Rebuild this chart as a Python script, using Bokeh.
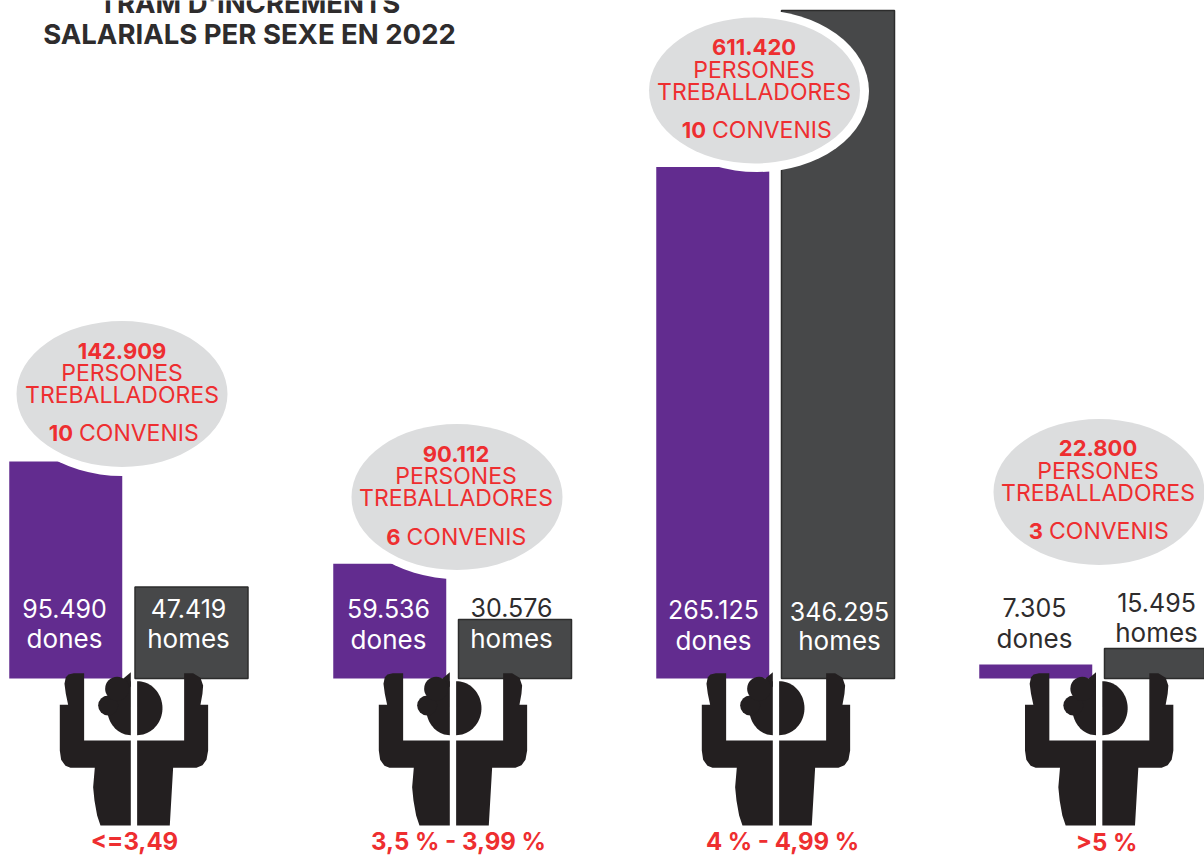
import numpy as np
from bokeh.plotting import figure
from bokeh.models import Range1d
from bokeh.core.properties import value
from bokeh.embed import file_html
from bokeh.resources import INLINE

# ---- data ----
title_lines = ["TRAM D'INCREMENTS", "SALARIALS PER SEXE EN 2022"]
categories = ["<=3,49", "3,5 % - 3,99 %", "4 % - 4,99 %", ">5 %"]
dones = [95490, 59536, 265125, 7305]
homes = [47419, 30576, 346295, 15495]
# the first purple bar is drawn taller in the source than its label says
dones_drawn = [112500, 59536, 265125, 7305]
persones = [142909, 90112, 611420, 22800]
convenis = [10, 6, 10, 3]

# ---- layout (pixels of the page) ----
W, H = 1204, 856
BASE = 678
K = 668 / 346295  # px per person
PURPLE, DARK, EDGE, GREY, RED, INK, ICON = "#622c8f", "#474849", "#2c2c2c", "#dcddde", "#ee2e30", "#2e2c2d", "#231f20"
FONT = value("Inter")

dones_x = [65.25, 389.25, 712.25, 1035.25]
homes_x = [191, 514.5, 837.5, 1160.5]
BAR_W = 113
icon_x = [133.3, 452.3, 775.3, 1098.5]
bubble = [(121.5, 393.5), (456.5, 496.5), (754, 90), (1098.5, 491.5)]
halo = [(121.5, 394.5), (456.5, 497.5), (756.5, 90.5), None]
text_cx = [121.5, 455.5, 753.5, 1097.5]
text_y = [(350.5, 372.5, 394.5, 432.5), (453.5, 475.5, 497.5, 536.5), (46.5, 69.5, 91.5, 129.5), (447.5, 470.5, 492.5, 530.5)]
conv_split = [72.5, 400, 705.5, 1042.5]
cat_x = [134, 458, 782, 1106]
cat_y = [841, 841, 841, 841.5]
dones_lab = [(64, 608, 638, "#ffffff", "#ffffff"), (388, 608, 639, "#ffffff", "#ffffff"),
             (713, 609, 640, "#ffffff", "#ffffff"), (1034, 607, 638, INK, INK)]
homes_lab = [(188, 608, 638, "#ffffff", "#ffffff"), (511, 607, 638, INK, "#ffffff"),
             (839, 611, 640, "#ffffff", "#ffffff"), (1156, 602, 632, INK, INK)]

p = figure(width=W, height=H, output_backend="svg", toolbar_location=None,
           x_axis_location=None, y_axis_location=None,
           x_range=Range1d(0, W),
           y_range=Range1d(-(H - BASE) / K, BASE / K),
           min_border=0, outline_line_color=None, background_fill_color="#ffffff")
p.grid.visible = False
p.extra_y_ranges = {"px": Range1d(H, 0)}

# bars, on the shared people scale
p.vbar(x=dones_x, top=dones_drawn, bottom=0, width=BAR_W, fill_color=PURPLE, line_color=None)
p.vbar(x=homes_x, top=homes, bottom=0, width=BAR_W, fill_color=DARK, line_color=EDGE, line_width=1.5)

# bubbles with white halo
for h in halo:
    if h:
        p.ellipse(x=[h[0]], y=[h[1]], width=224, height=162, height_units="screen", width_units="screen",
                  fill_color="#ffffff", line_color=None, y_range_name="px")
p.ellipse(x=[b[0] for b in bubble], y=[b[1] for b in bubble], width=211, height=146,
          width_units="screen", height_units="screen", fill_color=GREY, line_color=None, y_range_name="px")

# pictogram outlines, in 1/3 px around the icon axis
LEFT = [(-9, 495), (-100, 495), (-110, 465), (-118, 420), (-122, 380), (-117, 322), (-190, 322), (-205, 316), (-218, 298),
        (-222, 270), (-222, 133), (-197, 133), (-204, 100), (-208, 70), (-204, 50), (-196, 42), (-180, 38), (-149, 38),
        (-149, 240), (-9, 240)]
RIGHT = [(10, 495), (108, 495), (118, 322), (188, 322), (206, 314), (218, 298), (223, 270), (223, 133), (200, 133),
         (206, 100), (208, 75), (200, 52), (178, 38), (151, 38), (151, 240), (10, 240)]
SPIKE = [(-9, 35), (-32, 55), (-9, 80)]


def place(pts, cx):
    return [cx + q[0] / 3 for q in pts], [660 + q[1] / 3 for q in pts]


th = np.radians(np.linspace(-90, 90, 40))
r_head = [(10 + 76 * np.cos(t), 143 + 81 * np.sin(t)) for t in th]
l_head = [(-9 - 71 * np.cos(t), 143 - 81 * np.sin(t)) for t in th]
for cx in icon_x:
    for shape in (LEFT, RIGHT, r_head, l_head, SPIKE):
        xs, ys = place(shape, cx)
        p.patch(xs, ys, fill_color=ICON, line_color=None, y_range_name="px")
    p.ellipse(x=[cx - 77 / 3, cx - 50 / 3], y=[660 + 135 / 3, 660 + 85 / 3], width=[60 / 3, 72 / 3], height=[60 / 3, 72 / 3],
              width_units="screen", height_units="screen", fill_color=ICON, line_color=None, y_range_name="px")


def fmt(v):
    return f"{v:,}".replace(",", ".")


def txt(x, y, s, size, color, style="normal", align="center"):
    p.text(x=[x], y=[y], text=[s], text_font=FONT, text_font_size=f"{size}px", text_color=color,
           text_font_style=style, text_align=align, text_baseline="middle", y_range_name="px")


# title (the reference's first line is cut by the page's top edge)
txt(249, 2, title_lines[0], 27.5, INK, "bold")
txt(249, 33, title_lines[1], 27.5, INK, "bold")

# bar labels
for i in range(4):
    x, y1, y2, c1, c2 = dones_lab[i]
    txt(x, y1, fmt(dones[i]), 25, c1)
    txt(x, y2, "dones", 26, c2)
    x, y1, y2, c1, c2 = homes_lab[i]
    txt(x, y1, fmt(homes[i]), 25, c1)
    txt(x, y2, "homes", 26, c2)
    # bubble text
    y = text_y[i]
    txt(text_cx[i], y[0], fmt(persones[i]), 22, RED, "bold")
    txt(text_cx[i], y[1], "PERSONES", 23, RED)
    txt(text_cx[i], y[2], "TREBALLADORES", 23, RED)
    txt(conv_split[i], y[3], str(convenis[i]), 22, RED, "bold", "right")
    txt(conv_split[i] + 6, y[3], "CONVENIS", 23, RED, "normal", "left")
    # category label
    txt(cat_x[i], cat_y[i], categories[i], 24, RED, "bold")

open("out.html", "w").write(file_html(p, INLINE))
